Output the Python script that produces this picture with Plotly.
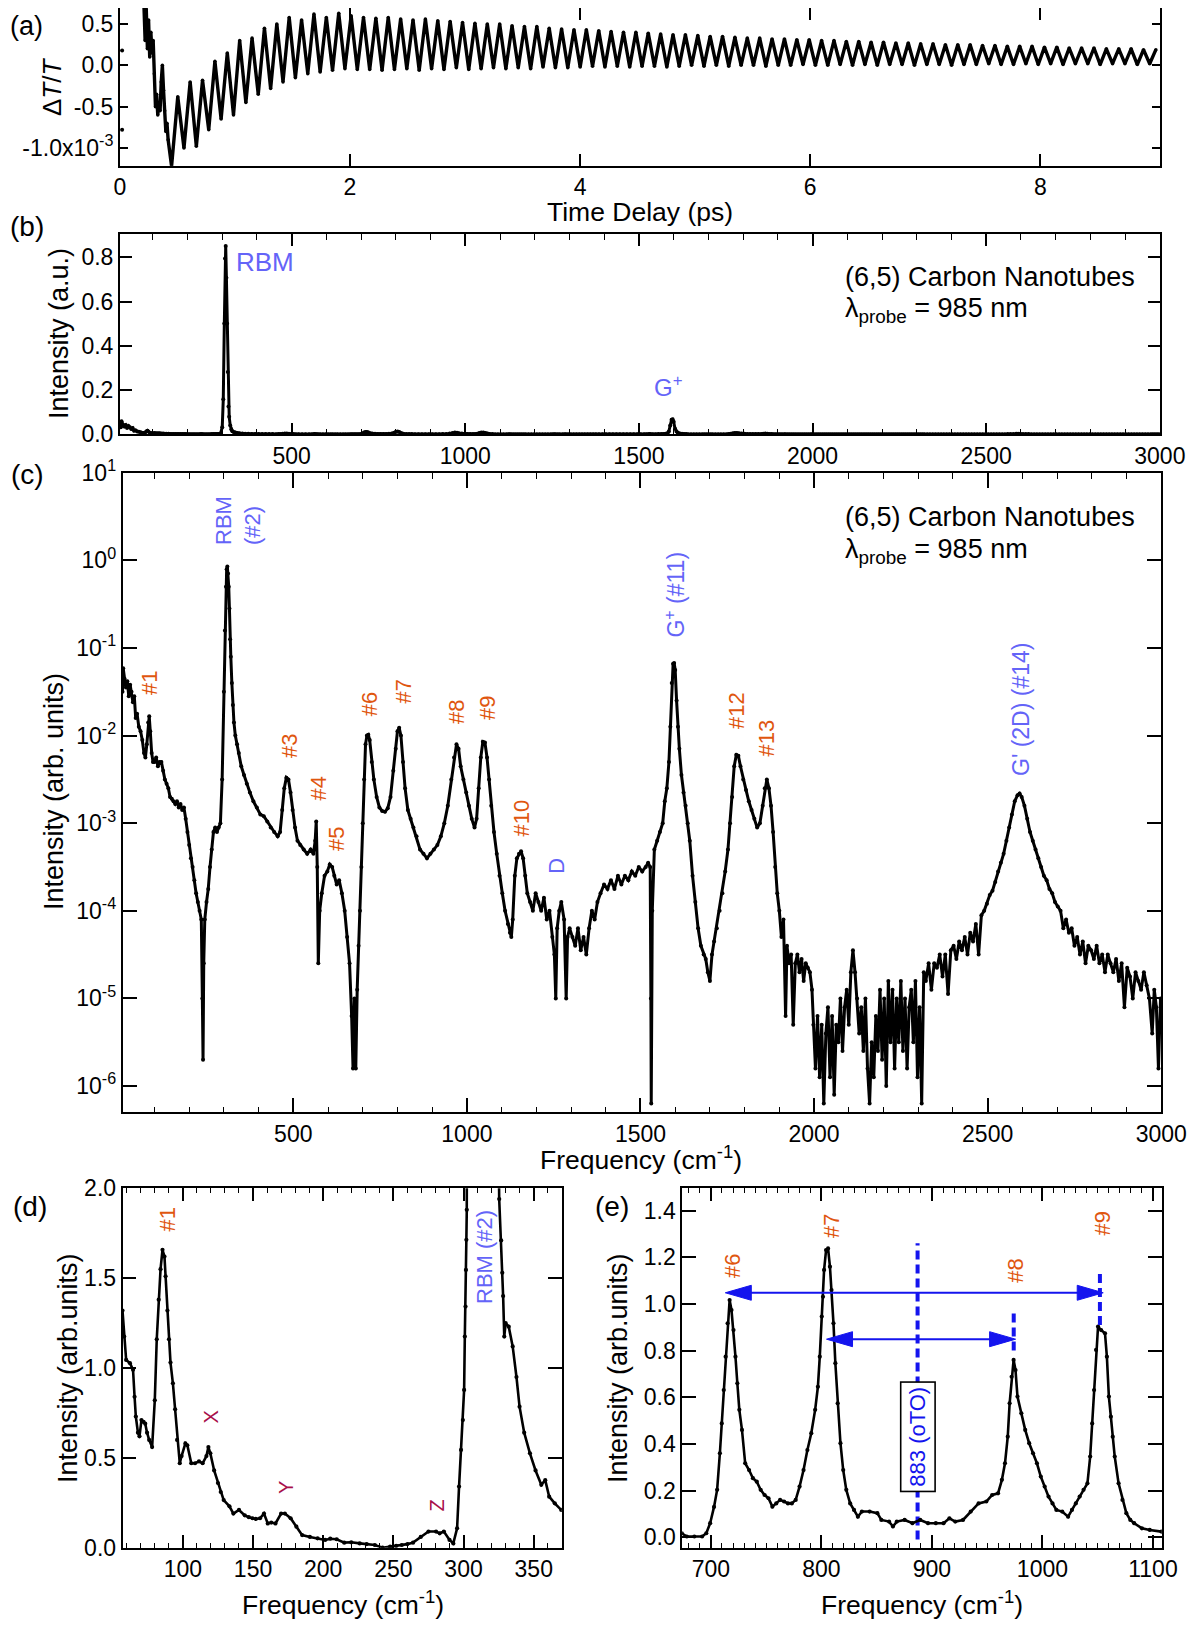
import plotly.graph_objects as go

W, H = 1200, 1628
OFF = 8  # default page body margin offsets the figure by this many px
FONT = "Liberation Sans, Arial, sans-serif"
ORANGE = "#E0560F"
LBLUE = "#6464F8"
CRIMSON = "#A8104A"
BLUE = "#1414EE"

# ---------------- DATA ----------------
# (a) pump-probe transient dT/T (units of 1e-3)
a_lone_t = [0.02, 0.02]
a_lone_v = [0.18, -0.78]
a_early_t = [0.21, 0.22, 0.23, 0.24, 0.25, 0.26, 0.27, 0.28, 0.29, 0.30, 0.31,
             0.32, 0.33, 0.34, 0.35, 0.36, 0.37, 0.38, 0.39, 0.40, 0.41, 0.42]
a_early_v = [0.72, 0.3, 0.68, 0.2, 0.55, 0.1, 0.4, 0.15, 0.3, -0.1, -0.5,
             -0.35, -0.6, -0.45, -0.55, -0.2, 0.0, -0.3, -0.55, -0.8, -0.7, -0.9]
# oscillation extrema sampled every half period starting at t0
a_osc_t0 = 0.45
a_osc_halfperiod = 0.0538
a_trough_v = [-1.22, -1.0, -0.98, -0.78, -0.65, -0.6, -0.45, -0.35, -0.28, -0.2,
              -0.15, -0.1, -0.08, -0.06, -0.04, -0.05, -0.05, -0.06,
              -0.05, -0.04, -0.06, -0.04, -0.05, -0.03, -0.05, -0.04, -0.03, -0.04,
              -0.03, -0.04, -0.02, -0.03, -0.03,
              -0.02, -0.01, -0.02, -0.01, -0.02, -0.01, -0.01, -0.02, -0.01, 0.0,
              -0.01, 0.0, -0.01, 0.0, 0.0, -0.01, 0.0, 0.0, 0.01, 0.0,
              0.0, 0.01, 0.0, 0.01, 0.0, 0.01, 0.01, 0.0, 0.01, 0.01,
              0.0, 0.01, 0.01, 0.02, 0.01, 0.01, 0.02, 0.01, 0.02, 0.01,
              0.02, 0.02, 0.01, 0.02, 0.02, 0.01, 0.02]
a_peak_v = [-0.38, -0.2, -0.18, 0.05, 0.15, 0.3, 0.33, 0.45, 0.5, 0.58, 0.55, 0.62, 0.58, 0.63, 0.6,
            0.58, 0.57, 0.58, 0.56, 0.55, 0.56, 0.54, 0.53, 0.52,
            0.51, 0.5, 0.5, 0.48, 0.47, 0.47, 0.45, 0.44, 0.43,
            0.43, 0.42, 0.41, 0.4, 0.4, 0.39, 0.38, 0.37, 0.37,
            0.36, 0.35, 0.35, 0.34, 0.33, 0.33, 0.32, 0.32, 0.31,
            0.31, 0.3, 0.3, 0.29, 0.29, 0.28, 0.28, 0.27, 0.27, 0.26,
            0.26, 0.25, 0.25, 0.25, 0.24, 0.24, 0.23, 0.23, 0.23,
            0.22, 0.22, 0.21, 0.21, 0.21, 0.2, 0.2, 0.2, 0.19, 0.19]

# (b)/(c) Fourier spectrum: frequency (cm-1) and log10 intensity
spec_freq = [
    8, 10, 14, 18, 22, 26, 30, 34, 38, 42,
    46, 50, 55, 60, 65, 70, 74, 78, 82, 85,
    88, 92, 96, 100, 105, 110, 115, 120, 125, 130,
    135, 140, 145, 150, 155, 160, 165, 170, 175, 180,
    185, 190, 195, 200, 205, 210, 215, 220, 225, 230,
    235, 238, 240, 242, 245, 250, 255, 260, 265, 270,
    275, 280, 285, 290, 295, 300, 303, 306, 308, 310,
    312, 314, 316, 318, 320, 323, 326, 329, 333, 338,
    343, 350, 358, 366, 375, 385, 395, 405, 415, 425,
    435, 445, 455, 462, 468, 474, 480, 486, 492, 498,
    505, 512, 520, 530, 540, 550, 558, 563, 566, 569,
    572, 576, 582, 590, 598, 605, 612, 618, 625, 632,
    640, 648, 655, 662, 668, 672, 676, 680, 684, 688,
    692, 696, 700, 704, 708, 712, 716, 720, 726, 732,
    740, 748, 756, 764, 772, 780, 788, 795, 800, 805,
    810, 816, 822, 830, 838, 846, 855, 865, 875, 885,
    895, 905, 915, 925, 935, 945, 955, 963, 970, 976,
    982, 990, 998, 1006, 1014, 1022, 1028, 1034, 1040, 1046,
    1052, 1058, 1064, 1070, 1078, 1086, 1094, 1102, 1110, 1118,
    1124, 1128, 1132, 1138, 1144, 1150, 1156, 1162, 1168, 1174,
    1182, 1190, 1198, 1206, 1214, 1222, 1230, 1238, 1246, 1252,
    1256, 1260, 1266, 1272, 1280, 1286, 1290, 1296, 1304, 1312,
    1320, 1328, 1336, 1344, 1352, 1360, 1368, 1376, 1385, 1395,
    1405, 1415, 1425, 1435, 1445, 1455, 1465, 1475, 1485, 1495,
    1505, 1515, 1522, 1528, 1530, 1531, 1534, 1540, 1548, 1556,
    1564, 1570, 1576, 1582, 1586, 1590, 1594, 1597, 1600, 1604,
    1608, 1612, 1618, 1624, 1630, 1636, 1642, 1650, 1658, 1666,
    1674, 1682, 1688, 1694, 1700, 1706, 1712, 1720, 1728, 1736,
    1744, 1752, 1758, 1764, 1770, 1776, 1782, 1788, 1796, 1804,
    1812, 1820, 1828, 1836, 1844, 1852, 1858, 1864, 1870, 1876,
    1882, 1888, 1894, 1900, 1906, 1912, 1918, 1922, 1928, 1934,
    1940, 1946, 1952, 1958, 1964, 1970, 1976, 1982, 1988, 1994,
    1998, 2004, 2010, 2016, 2022, 2028, 2034, 2040, 2046, 2052,
    2058, 2064, 2070, 2076, 2082, 2088, 2094, 2100, 2106, 2112,
    2118, 2124, 2130, 2136, 2142, 2148, 2154, 2160, 2166, 2172,
    2178, 2184, 2190, 2196, 2202, 2208, 2214, 2220, 2226, 2232,
    2238, 2244, 2250, 2256, 2262, 2268, 2274, 2280, 2286, 2292,
    2298, 2304, 2310, 2316, 2322, 2330, 2338, 2346, 2354, 2362,
    2370, 2378, 2386, 2394, 2402, 2410, 2418, 2426, 2434, 2442,
    2450, 2458, 2466, 2474, 2482, 2490, 2498, 2506, 2514, 2522,
    2530, 2538, 2546, 2554, 2562, 2570, 2578, 2586, 2592, 2598,
    2606, 2614, 2622, 2630, 2638, 2646, 2654, 2662, 2670, 2678,
    2686, 2694, 2702, 2710, 2718, 2726, 2734, 2742, 2750, 2758,
    2766, 2774, 2782, 2790, 2798, 2806, 2814, 2822, 2830, 2838,
    2846, 2854, 2862, 2870, 2878, 2886, 2894, 2902, 2910, 2918,
    2926, 2934, 2942, 2950, 2958, 2966, 2974, 2980, 2986, 2992,
    2998]
spec_log10 = [
    -1.5, -1.23, -1.35, -1.45, -1.38, -1.55, -1.42, -1.5, -1.62, -1.55,
    -1.8, -1.75, -1.9, -1.95, -2.05, -2.2, -2.25, -2.1, -1.85, -1.78,
    -1.95, -2.2, -2.3, -2.3, -2.25, -2.35, -2.3, -2.3, -2.4, -2.5,
    -2.55, -2.6, -2.7, -2.72, -2.75, -2.78, -2.75, -2.82, -2.78, -2.85,
    -2.82, -2.95, -3.1, -3.25, -3.4, -3.5, -3.65, -3.8, -3.9, -4.0,
    -4.1, -5.0, -5.7, -4.6, -4.1, -3.9, -3.75, -3.5, -3.3, -3.1,
    -3.05, -3.1, -3.05, -3.0, -2.5, -1.5, -0.8, -0.3, -0.1, -0.07,
    -0.15, -0.3, -0.55, -0.9, -1.1, -1.4, -1.65, -1.85, -2.0, -2.1,
    -2.2, -2.35, -2.45, -2.55, -2.65, -2.75, -2.82, -2.9, -2.92, -2.98,
    -3.05, -3.1, -3.15, -3.1, -2.85, -2.6, -2.48, -2.5, -2.65, -2.85,
    -3.05, -3.2, -3.25, -3.3, -3.35, -3.3, -3.35, -3.2, -2.98, -3.5,
    -4.6, -4.0, -3.8, -3.6, -3.55, -3.47, -3.5, -3.6, -3.7, -3.65,
    -3.8, -4.0, -4.3, -4.6, -5.2, -5.8, -5.0, -5.8, -4.9, -4.4,
    -4.0, -3.5, -3.0, -2.5, -2.1, -2.0, -1.99, -2.05, -2.3, -2.5,
    -2.7, -2.82, -2.86, -2.87, -2.83, -2.7, -2.4, -2.15, -1.95, -1.91,
    -2.0, -2.3, -2.6, -2.85, -2.95, -3.05, -3.15, -3.3, -3.35, -3.4,
    -3.35, -3.3, -3.25, -3.15, -3.0, -2.8, -2.5, -2.25, -2.1, -2.15,
    -2.35, -2.5, -2.65, -2.8, -2.95, -3.05, -2.95, -2.6, -2.25, -2.07,
    -2.08, -2.25, -2.5, -2.8, -3.1, -3.35, -3.6, -3.8, -4.0, -4.15,
    -4.25, -4.3, -4.1, -3.6, -3.4, -3.35, -3.32, -3.4, -3.6, -3.8,
    -3.9, -4.0, -3.8, -3.9, -4.0, -3.85, -4.1, -4.0, -4.3, -4.5,
    -5.0, -4.2, -4.0, -3.9, -4.1, -5.0, -4.3, -4.2, -4.3, -4.4,
    -4.2, -4.45, -4.3, -4.5, -4.2, -4.0, -4.1, -3.9, -3.8, -3.7,
    -3.75, -3.65, -3.75, -3.6, -3.7, -3.6, -3.65, -3.55, -3.6, -3.5,
    -3.55, -3.5, -3.45, -3.5, -5.0, -6.2, -4.0, -3.3, -3.2, -3.1,
    -3.0, -2.75, -2.6, -2.3, -1.9, -1.4, -1.18, -1.17, -1.25, -1.6,
    -1.9, -2.15, -2.45, -2.65, -2.8, -3.0, -3.2, -3.6, -3.9, -4.2,
    -4.4, -4.5, -4.55, -4.7, -4.8, -4.5, -4.35, -4.2, -4.0, -3.8,
    -3.55, -3.3, -3.0, -2.7, -2.35, -2.22, -2.23, -2.35, -2.5, -2.62,
    -2.75, -2.85, -2.95, -3.05, -3.0, -2.8, -2.6, -2.5, -2.6, -2.8,
    -3.1, -3.5, -3.8, -4.0, -4.3, -4.1, -5.2, -4.4, -4.6, -4.5,
    -5.3, -4.6, -4.5, -4.7, -4.55, -4.8, -4.6, -4.65, -4.7, -4.9,
    -5.3, -5.8, -5.2, -5.9, -5.3, -6.2, -5.4, -5.1, -5.9, -5.2,
    -6.1, -5.3, -5.5, -5.0, -5.6, -5.1, -4.9, -5.3, -4.7, -4.45,
    -4.7, -5.0, -5.4, -5.1, -5.6, -5.0, -5.8, -6.2, -5.5, -5.9,
    -5.2, -5.6, -4.9, -5.7, -5.0, -6.0, -4.8, -5.5, -4.9, -5.8,
    -5.0, -5.5, -4.8, -5.6, -5.0, -5.8, -5.1, -4.9, -5.5, -4.8,
    -5.9, -5.1, -6.2, -4.7, -4.8, -4.6, -4.9, -4.6, -4.65, -4.5,
    -4.75, -4.5, -4.95, -4.45, -4.4, -4.55, -4.35, -4.45, -4.3, -4.5,
    -4.25, -4.35, -4.15, -4.5, -4.05, -4.0, -3.92, -3.82, -3.77, -3.67,
    -3.55, -3.45, -3.35, -3.2, -3.05, -2.9, -2.75, -2.68, -2.66, -2.7,
    -2.8, -2.95, -3.1, -3.2, -3.3, -3.4, -3.5, -3.6, -3.65, -3.75,
    -3.8, -3.9, -3.95, -4.0, -4.2, -4.1, -4.25, -4.2, -4.4, -4.3,
    -4.5, -4.35, -4.6, -4.4, -4.45, -4.55, -4.4, -4.6, -4.5, -4.7,
    -4.5, -4.6, -4.7, -4.55, -4.8, -4.6, -5.1, -4.65, -4.75, -5.0,
    -4.7, -4.8, -4.9, -4.7, -4.85, -5.0, -5.4, -4.9, -5.1, -5.8,
    -5.0]

# (d) low-frequency region (arb. units)
d_freq = [57, 58.2, 59.6, 62.3, 64.5, 65.6, 66.5, 68, 69.1, 70.5,
          72, 73.2, 74.5, 76, 78.1, 80, 81.4, 82.8, 84.1, 85.5,
          86.9, 87.7, 89, 90.1, 91.2, 92.9, 94.5, 95.9, 97.8, 99.1,
          101.8, 103.2, 106, 108.7, 111.5, 114.1, 116.8, 118.2, 119.6, 122.3,
          125, 127, 129.1, 133.2, 136, 140, 144.1, 147, 149.6, 152,
          155, 157.8, 160.5, 163, 166, 170, 172.7, 176.8, 180.9, 185,
          190.5, 196, 201.4, 205, 209.6, 215, 220, 226, 231, 236.8,
          242.3, 247.7, 252, 256, 260, 264, 269.5, 275, 280.4, 283,
          286, 290, 292.7, 295.4, 296.8, 298.2, 299.5, 300.4, 300.9, 301.4,
          301.7, 302, 302.3, 304, 307, 311, 315, 319, 322.5, 325.4,
          326.8, 327.6, 328.2, 329, 330, 332.2, 335, 337.7, 339.9, 343.2,
          347.3, 351.3, 355.4, 358.2, 361, 365, 369.6]
d_int = [1.32, 1.175, 1.045, 1.027, 0.99, 0.84, 0.73, 0.64, 0.62, 0.71,
         0.7, 0.69, 0.64, 0.6, 0.56, 0.82, 1.16, 1.38, 1.55, 1.658,
         1.62, 1.51, 1.32, 1.16, 1.03, 0.915, 0.77, 0.6, 0.47, 0.51,
         0.58, 0.57, 0.47, 0.47, 0.48, 0.47, 0.51, 0.56, 0.525, 0.43,
         0.36, 0.31, 0.265, 0.23, 0.19, 0.21, 0.18, 0.17, 0.164, 0.16,
         0.164, 0.19, 0.135, 0.14, 0.135, 0.19, 0.19, 0.164, 0.117, 0.07,
         0.06, 0.052, 0.043, 0.05, 0.047, 0.028, 0.03, 0.024, 0.02, 0.015,
         0.0, 0.006, 0.01, 0.015, 0.02, 0.028, 0.06, 0.09, 0.09, 0.08,
         0.09, 0.043, 0.024, 0.108, 0.34, 0.544, 0.71, 0.878, 1.175, 1.342,
         1.546, 1.713, 1.88, 4.0, 30.0, 85.0, 45.0, 12.0, 4.0, 1.94,
         1.71, 1.53, 1.4, 1.175, 1.25, 1.23, 1.12, 0.95, 0.785, 0.64,
         0.525, 0.43, 0.35, 0.376, 0.284, 0.247, 0.21]

# (e) mid-frequency region (arb. units)
e_freq = [673.6, 678.2, 685, 692, 695.8, 699.3, 702.8, 705.6, 708.1, 709.8,
          711.6, 713.3, 715.1, 716.9, 718.6, 720.4, 722.2, 723.9, 725.7, 728.1,
          731, 734.5, 738, 741.5, 745, 748.6, 752.1, 755.6, 759.1, 762.6,
          766.2, 769.7, 773.2, 776.7, 780.2, 783.8, 787.3, 790.8, 794.3, 796.8,
          798.5, 800.3, 801.4, 802.4, 804.2, 806, 807.7, 809.1, 810.9, 812.6,
          814.7, 817.2, 819.7, 822.5, 826, 829.5, 833, 836.6, 843.6, 850.6,
          854.2, 861.2, 864.7, 868.2, 875.3, 882.3, 889.4, 896.4, 903.5, 910.5,
          915.8, 921.1, 928.1, 935.1, 942.2, 949.2, 954.5, 959.8, 963.3, 966.1,
          968.6, 970.3, 972.1, 973.9, 975.6, 977.4, 980.9, 984.4, 988, 991.5,
          995, 998.5, 1002, 1005.5, 1009.1, 1012.6, 1017.9, 1023.2, 1026.7, 1030.2,
          1033.7, 1037.2, 1040.7, 1043.2, 1045, 1046.7, 1048.5, 1050.3, 1053.1, 1056.6,
          1058.3, 1060.1, 1061.9, 1063.6, 1065.4, 1068.9, 1072.4, 1075.9, 1079.5, 1083,
          1090, 1097.1, 1107.6]
e_int = [0.017, 0.003, 0.003, 0.003, 0.017, 0.06, 0.13, 0.203, 0.36, 0.488,
         0.631, 0.774, 0.917, 1.017, 0.974, 0.888, 0.774, 0.66, 0.546, 0.46,
         0.317, 0.288, 0.253, 0.238, 0.203, 0.181, 0.167, 0.131, 0.145, 0.16,
         0.153, 0.145, 0.145, 0.16, 0.217, 0.288, 0.374, 0.446, 0.546, 0.645,
         0.774, 0.946, 1.031, 1.146, 1.231, 1.238, 1.16, 1.06, 0.917, 0.746,
         0.574, 0.403, 0.288, 0.203, 0.145, 0.117, 0.088, 0.11, 0.11, 0.103,
         0.074, 0.067, 0.046, 0.067, 0.074, 0.06, 0.074, 0.06, 0.06, 0.06,
         0.081, 0.067, 0.074, 0.11, 0.145, 0.153, 0.181, 0.188, 0.246, 0.317,
         0.431, 0.574, 0.688, 0.76, 0.717, 0.603, 0.531, 0.46, 0.403, 0.36,
         0.317, 0.26, 0.217, 0.174, 0.145, 0.117, 0.11, 0.088, 0.117, 0.145,
         0.174, 0.203, 0.231, 0.346, 0.488, 0.631, 0.803, 0.903, 0.888, 0.874,
         0.774, 0.603, 0.517, 0.431, 0.346, 0.231, 0.16, 0.103, 0.074, 0.06,
         0.038, 0.031, 0.024]

# annotations in (e)
e_oTO = 887
e_mode_lines = [(974, 0.80, 0.975), (1052, 0.91, 1.146)]
e_arrows = [(713, 1055, 1.048), (804.6, 975.7, 0.849)]

# ---------------- BUILD ----------------
a_t, a_v = list(a_early_t), list(a_early_v)
for k in range(len(a_peak_v)):
    a_t.append(a_osc_t0 + a_osc_halfperiod * 2 * k)
    a_v.append(a_trough_v[k])
    a_t.append(a_osc_t0 + a_osc_halfperiod * (2 * k + 1))
    a_v.append(a_peak_v[k])

spec_int = [10 ** v for v in spec_log10]

fig = go.Figure()
blk = "black"
fig.add_trace(go.Scatter(x=a_lone_t, y=a_lone_v, mode="markers",
                         marker=dict(size=4, color=blk), xaxis="x", yaxis="y"))
fig.add_trace(go.Scatter(x=a_t, y=a_v, mode="lines+markers",
                         line=dict(color=blk, width=3.4), marker=dict(size=3.5, color=blk),
                         xaxis="x", yaxis="y"))
fig.add_trace(go.Scatter(x=spec_freq, y=spec_int, mode="lines+markers",
                         line=dict(color=blk, width=3), marker=dict(size=4, color=blk),
                         xaxis="x2", yaxis="y2"))
fig.add_trace(go.Scatter(x=spec_freq, y=spec_int, mode="lines+markers",
                         line=dict(color=blk, width=3), marker=dict(size=4, color=blk),
                         xaxis="x3", yaxis="y3"))
fig.add_trace(go.Scatter(x=d_freq, y=d_int, mode="lines+markers",
                         line=dict(color=blk, width=2.6), marker=dict(size=4.2, color=blk),
                         xaxis="x4", yaxis="y4"))
fig.add_trace(go.Scatter(x=e_freq, y=e_int, mode="lines+markers",
                         line=dict(color=blk, width=2.6), marker=dict(size=4.2, color=blk),
                         xaxis="x5", yaxis="y5"))


def dom_x(x0, x1):
    return [max(0.0, (x0 - OFF) / W), min(1.0, (x1 - OFF) / W)]


def dom_y(y0, y1):
    return [max(0.0, 1 - (y1 - OFF) / H), min(1.0, 1 - (y0 - OFF) / H)]


def axis(**kw):
    d = dict(showline=True, linecolor=blk, linewidth=1.6, mirror="ticks",
             ticks="inside", tickcolor=blk, tickwidth=1.6, showgrid=False,
             zeroline=False, automargin=False, ticklabelstandoff=0,
             tickfont=dict(family=FONT, size=23, color=blk))
    d.update(kw)
    return d


def minor(dt, ln):
    return dict(ticks="inside", dtick=dt, tick0=0, ticklen=ln, tickcolor=blk, tickwidth=1.4)


layout = dict(
    template="none",
    width=W, height=H, autosize=False, showlegend=False,
    margin=dict(l=0, r=0, t=0, b=0, pad=0),
    paper_bgcolor="white", plot_bgcolor="white",
    font=dict(family=FONT, color=blk),
    xaxis=axis(domain=dom_x(119.8, 1160), anchor="y", range=[0, 9.04],
               tickmode="array", tickvals=[0, 2, 4, 6, 8], ticklen=12),
    yaxis=axis(domain=dom_y(8, 165.7), anchor="x", range=[-1.214, 0.694],
               tickmode="array", tickvals=[-1.0, -0.5, 0.0, 0.5],
               ticktext=["-1.0x10<sup>-3</sup>", "-0.5", "0.0", "0.5"], ticklen=8),
    xaxis2=axis(domain=dom_x(119.8, 1160), anchor="y2", range=[5, 3000.5],
                tickmode="linear", tick0=0, dtick=500, ticklen=12, minor=minor(100, 6)),
    yaxis2=axis(domain=dom_y(234.3, 434.3), anchor="x2", range=[0, 0.904],
                tickmode="linear", tick0=0, dtick=0.2, tickformat=".1f", ticklen=12),
    xaxis3=axis(domain=dom_x(122.5, 1161.4), anchor="y3", range=[8, 3000.5],
                tickmode="linear", tick0=0, dtick=500, ticklen=15, minor=minor(100, 6)),
    yaxis3=axis(domain=dom_y(472.7, 1112.3), anchor="x3", type="log", range=[-6.3, 1.001],
                tickmode="array", tickvals=[1e-6, 1e-5, 1e-4, 1e-3, 1e-2, 1e-1, 1, 10],
                ticktext=["10<sup>-6</sup>", "10<sup>-5</sup>", "10<sup>-4</sup>", "10<sup>-3</sup>",
                          "10<sup>-2</sup>", "10<sup>-1</sup>", "10<sup>0</sup>", "10<sup>1</sup>"],
                ticklen=15),
    xaxis4=axis(domain=dom_x(122.5, 561.8), anchor="y4", range=[57, 370],
                tickmode="linear", tick0=0, dtick=50, ticklen=13, minor=minor(10, 5)),
    yaxis4=axis(domain=dom_y(1188.3, 1547.7), anchor="x4", range=[0, 2.0],
                tickmode="linear", tick0=0, dtick=0.5, tickformat=".1f", ticklen=14),
    xaxis5=axis(domain=dom_x(682.2, 1161.8), anchor="y5", range=[674, 1108],
                tickmode="linear", tick0=0, dtick=100, ticklen=13, minor=minor(10, 5)),
    yaxis5=axis(domain=dom_y(1188.3, 1547.7), anchor="x5", range=[-0.045, 1.496],
                tickmode="linear", tick0=0, dtick=0.2, tickformat=".1f", ticklen=14),
)
fig.update_layout(**layout)

ann = []


def txt(x, y, s, size=26, color=blk, angle=0, xanchor="center", align="center"):
    ann.append(dict(x=(x - OFF) / W, y=1 - (y - OFF) / H, xref="paper", yref="paper", text=s,
                    showarrow=False, textangle=angle, xanchor=xanchor, yanchor="middle",
                    align=align, font=dict(family=FONT, size=size, color=color)))


# panel letters
txt(26, 26, "(a)", 27)
txt(27, 227, "(b)", 28)
txt(27, 474, "(c)", 28)
txt(30, 1206, "(d)", 28)
txt(612, 1206, "(e)", 28)

# axis titles
txt(640, 212, "Time Delay (ps)", 26.5)
txt(52, 87, "Δ<i>T</i>/<i>T</i>", 26, angle=-90)
txt(59, 334, "Intensity (a.u.)", 27, angle=-90)
txt(54, 792, "Intensity (arb. units)", 27, angle=-90)
txt(641, 1158, "Frequency (cm<sup>-1</sup>)", 26.5)
txt(68, 1368, "Intensity (arb.units)", 27, angle=-90)
txt(343, 1603, "Frequency (cm<sup>-1</sup>)", 26.5)
txt(618, 1368, "Intensity (arb.units)", 27, angle=-90)
txt(922, 1603, "Frequency (cm<sup>-1</sup>)", 26.5)

# (b) labels
txt(265, 262, "RBM", 26, LBLUE)
txt(668, 386, "G<sup>+</sup>", 24, LBLUE)
txt(843, 277, "(6,5) Carbon Nanotubes", 27, xanchor="left")
txt(843, 310, "λ<sub>probe</sub> = 985 nm", 27, xanchor="left")

# (c) labels
txt(843, 517, "(6,5) Carbon Nanotubes", 27, xanchor="left")
txt(843, 551, "λ<sub>probe</sub> = 985 nm", 27, xanchor="left")
txt(238, 521, "RBM<br>(#2)", 22, LBLUE, angle=-90, align="left")
for (x, y, s) in [(149, 683, "#1"), (289, 746, "#3"), (317.6, 789, "#4"), (336, 839, "#5"),
                  (369.3, 704, "#6"), (402.6, 692, "#7"), (456, 712, "#8"), (488, 708, "#9"),
                  (522.4, 818, "#10"), (735.9, 710, "#12"), (766.5, 738, "#13")]:
    txt(x, y, s, 22, ORANGE, angle=-90)
txt(556.8, 866, "D", 22, LBLUE, angle=-90)
txt(674.6, 595, "G<sup>+</sup> (#11)", 23, LBLUE, angle=-90)
txt(1021, 710, "G' (2D) (#14)", 23, LBLUE, angle=-90)

# (d) labels
txt(166.5, 1220, "#1", 22, ORANGE, angle=-90)
txt(210.5, 1417, "X", 20, CRIMSON, angle=-90)
txt(286, 1488, "Y", 20, CRIMSON, angle=-90)
txt(437.4, 1505, "Z", 20, CRIMSON, angle=-90)
txt(484, 1257, "RBM (#2)", 22, LBLUE, angle=-90)

# (e) labels
for (x, y, s) in [(732, 1266, "#6"), (831, 1226, "#7"), (1014.8, 1271, "#8"), (1101.5, 1224, "#9")]:
    txt(x, y, s, 22, ORANGE, angle=-90)

ann.append(dict(x=e_oTO, y=0.431, xref="x5", yref="y5", text="883 (oTO)", showarrow=False,
                textangle=-90, font=dict(family=FONT, size=22, color=BLUE),
                bgcolor="white", bordercolor=blk, borderwidth=1.6, borderpad=4))

fig.update_layout(annotations=ann)

# (e) dashed lines and arrows
shapes = []
shapes.append(dict(type="line", xref="x5", yref="y5", x0=e_oTO, x1=e_oTO, y0=-0.01, y1=1.26,
                   line=dict(color=BLUE, width=4, dash="9px,5px"), layer="below"))
for (xm, y0, y1) in e_mode_lines:
    shapes.append(dict(type="line", xref="x5", yref="y5", x0=xm, x1=xm, y0=y0, y1=y1,
                       line=dict(color=BLUE, width=4, dash="9px,5px")))
# arrow geometry: head length / half height in pixels converted to data units
xs = 1.105   # px per cm-1 in (e)
ys = 233.3   # px per unit in (e)
hl, hh = 26 / xs, 7.5 / ys
for (xl, xr, yv) in e_arrows:
    shapes.append(dict(type="line", xref="x5", yref="y5", x0=xl + hl * 0.8, x1=xr - hl * 0.8,
                       y0=yv, y1=yv, line=dict(color=BLUE, width=2)))
    shapes.append(dict(type="path", xref="x5", yref="y5",
                       path=f"M {xl} {yv} L {xl + hl} {yv + hh} L {xl + hl} {yv - hh} Z",
                       fillcolor=BLUE, line=dict(color=BLUE, width=1)))
    shapes.append(dict(type="path", xref="x5", yref="y5",
                       path=f"M {xr} {yv} L {xr - hl} {yv + hh} L {xr - hl} {yv - hh} Z",
                       fillcolor=BLUE, line=dict(color=BLUE, width=1)))
fig.update_layout(shapes=shapes)

fig.write_html("out.html")
